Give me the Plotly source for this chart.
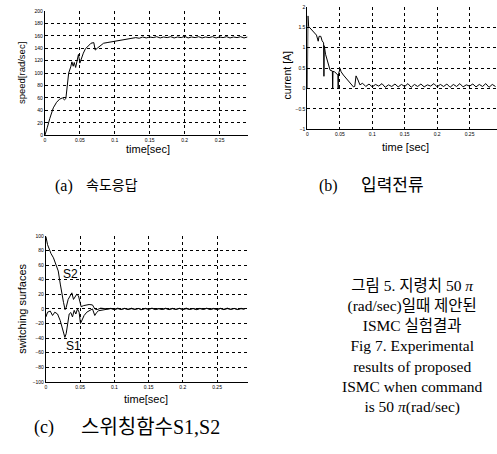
import plotly.graph_objects as go

# ---------------- data ----------------
# (a) speed response
t_speed = [0, 0.001, 0.0033, 0.007, 0.012, 0.0167, 0.021, 0.025, 0.028, 0.030, 0.032, 0.034,
           0.037, 0.0386, 0.0405, 0.042, 0.044, 0.046, 0.048, 0.050, 0.052, 0.055, 0.058, 0.063,
           0.066, 0.070, 0.072, 0.075, 0.080, 0.084, 0.089, 0.094, 0.100, 0.105, 0.110, 0.115,
           0.120, 0.125, 0.13, 0.135, 0.14, 0.145, 0.15, 0.155, 0.16, 0.165, 0.17, 0.175, 0.18,
           0.185, 0.19, 0.195, 0.20, 0.205, 0.21, 0.215, 0.22, 0.225, 0.23, 0.235, 0.24, 0.245,
           0.25, 0.255, 0.26, 0.265, 0.27, 0.275, 0.28, 0.285, 0.29]
speed = [0, 3, 12, 27, 44, 53, 58, 60, 57, 59, 80, 100,
         110, 118, 111, 117, 109, 123, 130, 116, 124, 132, 139, 145,
         148, 149, 137, 140, 144, 148, 149, 150, 151, 153, 154, 155,
         155.5, 156, 157, 156, 158, 156.5, 158, 157, 158.5, 156.5, 158, 157, 158.5,
         156.5, 158, 157, 159, 156.5, 158, 157, 158.5, 156.5, 158, 157, 158.5, 156.5,
         158, 157, 158.5, 156.5, 158, 157, 158.5, 156.5, 158]

# shared time grid for the steady-state ripple of (b) and (c)
t_tail = [0.09, 0.095, 0.10, 0.105, 0.11, 0.115, 0.12, 0.125, 0.13, 0.135, 0.14, 0.145, 0.15,
          0.155, 0.16, 0.165, 0.17, 0.175, 0.18, 0.185, 0.19, 0.195, 0.20, 0.205, 0.21, 0.215,
          0.22, 0.225, 0.23, 0.235, 0.24, 0.245, 0.25, 0.255, 0.26, 0.265, 0.27, 0.275, 0.28,
          0.285, 0.29]

# (b) input current
t_cur_head = [0, 0.0008, 0.002, 0.0066, 0.0116, 0.014, 0.0167, 0.018, 0.0207, 0.0227, 0.025,
              0.0255, 0.026, 0.028, 0.031, 0.033, 0.035, 0.0385, 0.039, 0.0395, 0.042, 0.045,
              0.047, 0.0475, 0.048, 0.0505, 0.052, 0.0555, 0.060, 0.065, 0.071, 0.073, 0.075,
              0.078, 0.081, 0.085]
cur_head = [0, 1.78, 1.52, 1.43, 1.35, 1.31, 1.16, 1.28, 1.28, 1.17, 1.12,
            0.30, 1.05, 0.84, 0.65, 0.53, 0.45, 0.43, 0.0, 0.42, 0.41, 0.35,
            0.33, 0.0, 0.36, 0.49, 0.41, 0.33, 0.25, 0.17, 0.04, 0.05, 0.31,
            0.21, 0.09, 0.13]
cur_tail = [0.05, 0.11, 0.04, 0.10, 0.06, 0.12, 0.03, 0.09, 0.05, 0.11,
            0.04, 0.10, 0.05, 0.12, 0.03, 0.10, 0.05, 0.11, 0.04, 0.09,
            0.06, 0.12, 0.04, 0.10, 0.05, 0.11, 0.03, 0.10, 0.05, 0.12,
            0.04, 0.09, 0.06, 0.11, 0.04, 0.10, 0.05, 0.12, 0.03, 0.10, 0.05]

# (c) switching surfaces
t_s2_head = [0, 0.0024, 0.0049, 0.0073, 0.011, 0.0146, 0.018, 0.021, 0.0233, 0.0257, 0.028,
             0.0296, 0.0325, 0.0354, 0.0379, 0.0403, 0.0432, 0.045, 0.0475, 0.050, 0.0515,
             0.055, 0.0631, 0.068, 0.0714, 0.075, 0.08, 0.085]
s2_head = [99, 88, 82, 76, 70, 61, 52, 34, 20, 9, -1,
           2, 13, 18, 22, 13, 18, 20, 18, 8, 3,
           4.5, 6, 5.5, 0, -1, 1, 0.5]
s2_tail = [0, 0.8, -0.5, 1, -0.6, 0.7, -0.4, 0.9, -0.5, 0.6,
           -0.7, 0.8, -0.3, 1, -0.6, 0.5, -0.5, 0.9, -0.4, 0.7,
           -0.6, 0.8, -0.5, 1, -0.4, 0.6, -0.7, 0.8, -0.5, 0.9,
           -0.4, 0.7, -0.6, 0.8, -0.5, 1, -0.4, 0.6, -0.6, 0.8, 0]

t_s1_head = [0, 0.0024, 0.0063, 0.0097, 0.013, 0.017, 0.0209, 0.0243, 0.0277, 0.0296, 0.0316,
             0.034, 0.0364, 0.0388, 0.0413, 0.0437, 0.0461, 0.0485, 0.0505, 0.0534, 0.0558,
             0.0597, 0.063, 0.0655, 0.068, 0.0714, 0.074, 0.077, 0.085]
s1_head = [-11, -4.5, -3, -9, -4.5, -7, -16, -29, -39, -34, -20,
           -7, -5, -11, -2, -7, 0, -4.5, -20, -13, -9,
           -4.5, -3, -2, 0, -9, -5, -2.5, -1]
s1_tail = [-0.5, 0.5, -1, 0.4, -0.8, 0.6, -0.9, 0.3, -0.7, 0.5,
           -1, 0.4, -0.6, 0.7, -0.9, 0.3, -0.8, 0.5, -1, 0.4,
           -0.7, 0.6, -0.9, 0.3, -0.8, 0.5, -1, 0.4, -0.6, 0.7,
           -0.9, 0.3, -0.8, 0.5, -1, 0.4, -0.7, 0.6, -0.9, 0.3, -0.5]

x_ticks = [0, 0.05, 0.1, 0.15, 0.2, 0.25]
x_ticktext = ["0", "0.05", "0.1", "0.15", "0.2", "0.25"]
y_ticks_a = [0, 20, 40, 60, 80, 100, 120, 140, 160, 180, 200]
y_ticks_b = [-1, -0.5, 0, 0.5, 1, 1.5, 2]
y_ticks_c = [-100, -80, -60, -40, -20, 0, 20, 40, 60, 80, 100]

side_text = ["그림 5. 지령치 50 <i>π</i>", "(rad/sec)일때 제안된", "ISMC 실험결과",
             "Fig 7. Experimental", "results of proposed", "ISMC when command",
             "is 50 <i>π</i>(rad/sec)"]

# ---------------- figure ----------------
W, H = 497, 454
def px(x):
    return x / W
def py(y):
    return 1 - y / H

fig = go.Figure()
line = dict(color="black", width=1)
fig.add_trace(go.Scatter(x=t_speed, y=speed, mode="lines", line=line, xaxis="x", yaxis="y"))
fig.add_trace(go.Scatter(x=t_cur_head + t_tail, y=cur_head + cur_tail, mode="lines", line=line,
                         xaxis="x2", yaxis="y2"))
fig.add_trace(go.Scatter(x=t_s2_head + t_tail, y=s2_head + s2_tail, mode="lines", line=line,
                         xaxis="x3", yaxis="y3"))
fig.add_trace(go.Scatter(x=t_s1_head + t_tail, y=s1_head + s1_tail, mode="lines", line=line,
                         xaxis="x3", yaxis="y3"))

tickfont = dict(family="Arial, Liberation Sans", size=5, color="black")
common = dict(showline=True, linecolor="black", linewidth=1, showgrid=True, gridcolor="black",
              griddash="3px,3px", gridwidth=1, zeroline=False, ticks="", tickfont=tickfont,
              fixedrange=True)

fig.update_layout(
    width=W, height=H, margin=dict(l=0, r=0, t=0, b=0),
    paper_bgcolor="white", plot_bgcolor="white", showlegend=False,
    xaxis=dict(domain=[px(44), px(247)], range=[0, 0.29], tickvals=x_ticks,
               ticktext=x_ticktext, anchor="y", **common),
    yaxis=dict(domain=[py(134), py(8)], range=[0, 200], tickvals=y_ticks_a, anchor="x", **common),
    xaxis2=dict(domain=[px(307), 1.0], range=[0, 0.2923], tickvals=x_ticks,
                ticktext=x_ticktext, anchor="y2", **common),
    yaxis2=dict(domain=[py(128), py(4)], range=[-1, 2], tickvals=y_ticks_b, anchor="x2", **common),
    xaxis3=dict(domain=[px(45), px(247)], range=[0, 0.2945], tickvals=x_ticks,
                ticktext=x_ticktext, anchor="y3", **common),
    yaxis3=dict(domain=[py(384), py(236)], range=[-100, 100], tickvals=y_ticks_c, anchor="x3",
                **common),
)

def f(size, family="Arial, Liberation Sans"):
    return dict(family=family, size=size, color="black")

def ann(x, y, text, font, angle=0, xanchor="center"):
    fig.add_annotation(x=px(x), y=py(y), xref="paper", yref="paper", text=text, showarrow=False,
                       font=font, textangle=angle, xanchor=xanchor, yanchor="middle")

# axis titles
ann(20, 71, "speed[rad/sec]", f(9.5), angle=-90)
ann(147, 148, "time[sec]", f(11))
ann(287, 73, "current [A]", f(10.5), angle=-90)
ann(405, 146, "time [sec]", f(11))
ann(21, 310, "switching surfaces", f(11), angle=-90)
ann(145, 401, "time[sec]", f(11))
# curve labels
ann(70, 275, "S2", f(12))
ann(73, 348, "S1", f(12))

# captions
serifk = "Liberation Serif, Noto Sans CJK KR"
ann(63, 185, "(a)", f(16, serifk))
ann(111, 185, "속도응답", f(14, serifk))
ann(328, 185, "(b)", f(16, serifk))
ann(392, 185, "입력전류", f(17, serifk))
ann(43, 430, "(c)", f(18, serifk))
ann(150, 430, "스위칭함수S1,S2", f(20, serifk))

# caption block on the right, as one multi-line text
ann(412, 348, "<br>".join(side_text), f(15.5, serifk))

fig.write_html("out.html", config={"displayModeBar": False},
               post_script="document.body.style.margin='0px';")
